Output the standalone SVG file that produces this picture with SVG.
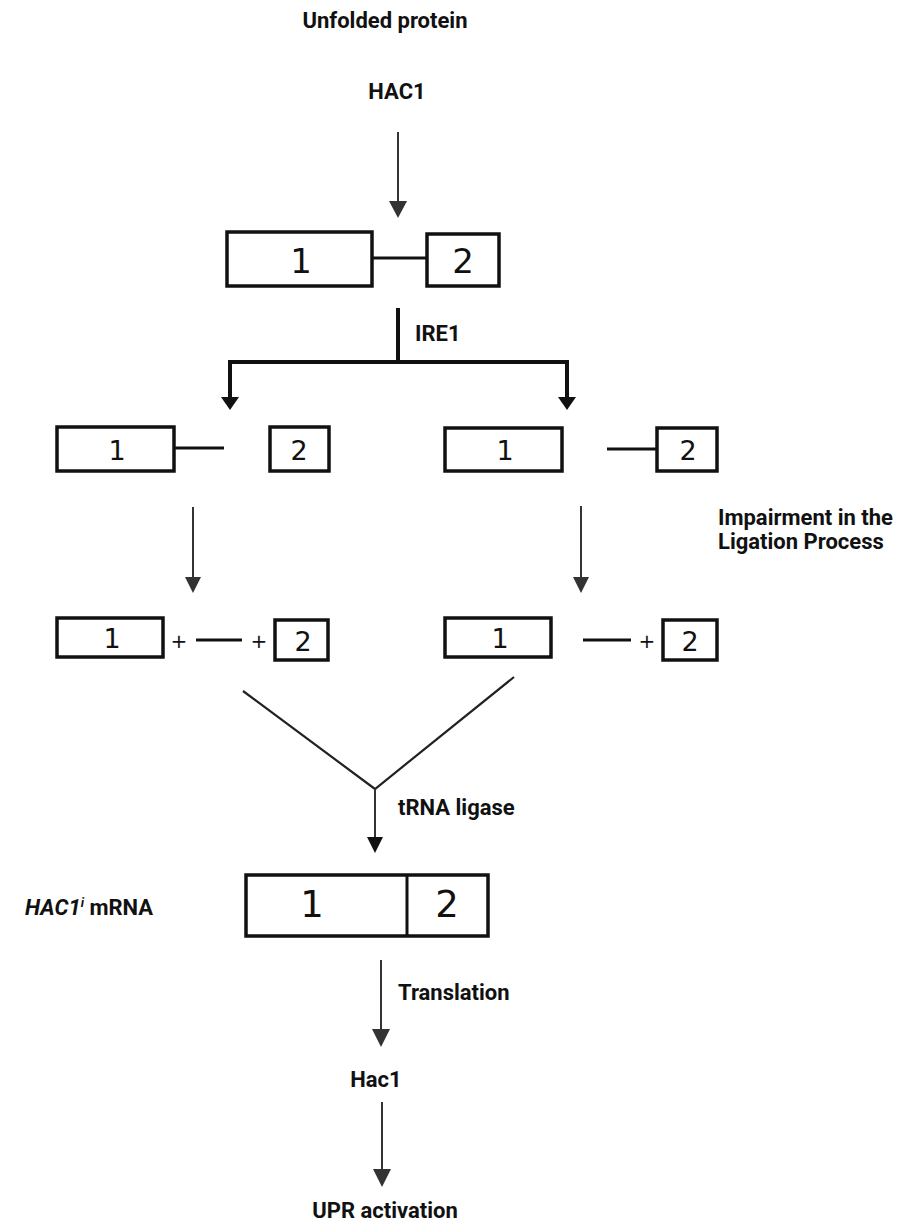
<svg xmlns="http://www.w3.org/2000/svg" width="905" height="1225" viewBox="0 0 905 1225">
<defs>
<style>
.lbl{font-family:Roboto,"Liberation Sans",sans-serif;font-weight:700;font-size:22px;fill:#111}
.dig{font-family:"DejaVu Sans","Liberation Sans",sans-serif;font-weight:400;fill:#111;text-anchor:middle}
.box{fill:#fff;stroke:#111;stroke-width:3.5}
.seg{stroke:#111;stroke-width:3;fill:none}
.arr{stroke:#333;stroke-width:2;fill:none}
.br{stroke:#111;stroke-width:4;fill:none}
.thin{stroke:#222;stroke-width:2.2;fill:none}
</style>
</defs>
<rect width="905" height="1225" fill="#fff"/>

<g id="labels">
<text class="lbl" x="385" y="28" text-anchor="middle">Unfolded protein</text>
<text class="lbl" x="397" y="99" text-anchor="middle">HAC1</text>
<text class="lbl" x="415" y="341">IRE1</text>
<text class="lbl" x="718" y="525">Impairment in the</text>
<text class="lbl" x="718" y="549">Ligation Process</text>
<text class="lbl" x="398" y="815">tRNA ligase</text>
<text class="lbl" x="25" y="915" font-size="21"><tspan font-style="italic">HAC1</tspan><tspan font-style="italic" font-size="13" dy="-8">i</tspan><tspan dy="8"> mRNA</tspan></text>
<text class="lbl" x="398" y="1000">Translation</text>
<text class="lbl" x="376" y="1087" text-anchor="middle">Hac1</text>
<text class="lbl" x="385" y="1218" text-anchor="middle">UPR activation</text>
</g>

<g id="connectors">
<line class="arr" x1="398" y1="132" x2="398" y2="201"/>
<path d="M389,201 L407,201 L398,218 z" fill="#333"/>
<line class="br" x1="398" y1="308" x2="398" y2="362"/>
<polyline class="br" points="230,397 230,362 567,362 567,397"/>
<path d="M221,397 L239,397 L230,410 z" fill="#111"/>
<path d="M558,397 L576,397 L567,410 z" fill="#111"/>
<line class="arr" x1="193" y1="507" x2="193" y2="578"/>
<path d="M185,577 L201,577 L193,593 z" fill="#333"/>
<line class="arr" x1="581" y1="506" x2="581" y2="578"/>
<path d="M573,577 L589,577 L581,593 z" fill="#333"/>
<polyline class="thin" points="243,691 375,789 514,677"/>
<line class="arr" x1="375" y1="789" x2="375" y2="838"/>
<path d="M367,837 L383,837 L375,853 z" fill="#111"/>
<line class="arr" x1="381" y1="960" x2="381" y2="1030"/>
<path d="M372,1029 L390,1029 L381,1047 z" fill="#333"/>
<line class="arr" x1="382" y1="1102" x2="382" y2="1170"/>
<path d="M373,1169 L391,1169 L382,1187 z" fill="#333"/>
</g>

<g id="gene-top">
<line class="seg" x1="372" y1="258" x2="427" y2="258"/>
<rect class="box" x="227" y="232" width="145" height="54"/>
<rect class="box" x="427" y="234" width="72" height="52"/>
<text class="dig" x="301" y="273" font-size="34">1</text>
<text class="dig" x="463" y="273" font-size="34">2</text>
</g>

<g id="cleaved-left">
<line class="seg" x1="174" y1="448" x2="224" y2="448"/>
<rect class="box" x="57" y="427" width="117" height="44"/>
<rect class="box" x="270" y="427" width="59" height="44"/>
<text class="dig" x="117" y="460" font-size="27">1</text>
<text class="dig" x="299" y="460" font-size="27">2</text>
</g>

<g id="cleaved-right">
<line class="seg" x1="607" y1="449" x2="657" y2="449"/>
<rect class="box" x="445" y="428" width="117" height="43"/>
<rect class="box" x="657" y="428" width="60" height="43"/>
<text class="dig" x="505" y="460" font-size="27">1</text>
<text class="dig" x="688" y="460" font-size="27">2</text>
</g>

<g id="parts-left">
<rect class="box" x="57" y="618" width="106" height="39"/>
<text class="dig" x="112" y="648" font-size="27">1</text>
<text class="dig" x="179" y="648" font-size="20">+</text>
<line class="seg" x1="196" y1="640" x2="242" y2="640"/>
<text class="dig" x="259" y="648" font-size="20">+</text>
<rect class="box" x="275" y="620" width="53" height="40"/>
<text class="dig" x="303" y="651" font-size="27">2</text>
</g>

<g id="parts-right">
<rect class="box" x="445" y="618" width="106" height="39"/>
<text class="dig" x="500" y="648" font-size="27">1</text>
<line class="seg" x1="583" y1="640" x2="631" y2="640"/>
<text class="dig" x="647" y="648" font-size="20">+</text>
<rect class="box" x="663" y="620" width="54" height="40"/>
<text class="dig" x="690" y="651" font-size="27">2</text>
</g>

<g id="mrna">
<rect class="box" x="246" y="875" width="242" height="61"/>
<line class="seg" x1="407" y1="875" x2="407" y2="936"/>
<text class="dig" x="312" y="917" font-size="37">1</text>
<text class="dig" x="447" y="917" font-size="37">2</text>
</g>
</svg>
